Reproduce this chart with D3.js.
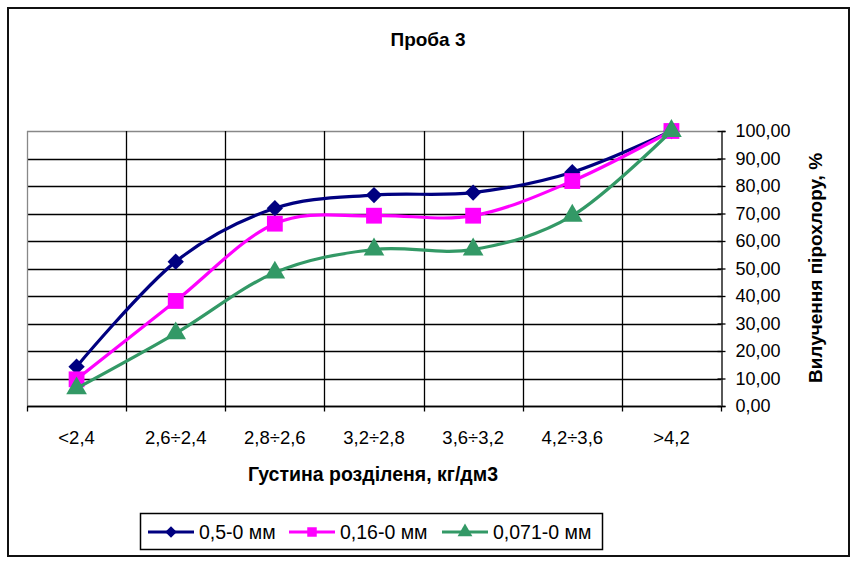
<!DOCTYPE html>
<html>
<head>
<meta charset="utf-8">
<script src="https://cdn.jsdelivr.net/npm/d3@7"></script>
<style>
  html, body { margin: 0; padding: 0; background: #fff; }
  svg { display: block; font-family: Arial, "Liberation Sans", sans-serif; }
</style>
</head>
<body>
<svg id="chart" width="852" height="563"></svg>
<script>
// Density fractions (x categories)
const categories = ["<2,4", "2,6÷2,4", "2,8÷2,6", "3,2÷2,8", "3,6÷3,2", "4,2÷3,6", ">4,2"];
// Cumulative pyrochlore recovery, % per size class
const series05 = [14.3, 52.5, 71.9, 76.7, 77.6, 85.0, 100];
const series016 = [9.7, 38.2, 66.3, 69.2, 69.2, 81.8, 100];
const series0071 = [6.4, 26.4, 48.5, 56.9, 56.9, 69.2, 100];
const seriesNames = ["0,5-0 мм", "0,16-0 мм", "0,071-0 мм"];
const yTicks = [0, 10, 20, 30, 40, 50, 60, 70, 80, 90, 100];

const title = "Проба 3";
const xTitle = "Густина розділеня, кг/дм3";
const yTitle = "Вилучення пірохлору, %";

const series = [
  { name: seriesNames[0], values: series05, color: "#000080", marker: "diamond" },
  { name: seriesNames[1], values: series016, color: "#FF00FF", marker: "square" },
  { name: seriesNames[2], values: series0071, color: "#339966", marker: "triangle" }
];

const svg = d3.select("#chart");
const plot = { left: 27, right: 721, top: 131, bottom: 406 };

const x = d3.scaleBand().domain(categories).range([plot.left, plot.right]);
const y = d3.scaleLinear().domain([0, 100]).range([plot.bottom, plot.top]);
const cx = d => x(d) + x.bandwidth() / 2;
const fmt = v => d3.format(".2f")(v).replace(".", ",");

// Outer chart frame
svg.append("rect")
  .attr("x", 8).attr("y", 8).attr("width", 841).attr("height", 548)
  .attr("fill", "#fff").attr("stroke", "#111").attr("stroke-width", 2);

// Title
svg.append("text")
  .attr("x", 428).attr("y", 46)
  .attr("text-anchor", "middle")
  .attr("font-size", 19).attr("font-weight", "bold")
  .text(title);

// Horizontal gridlines
svg.append("g")
  .selectAll("line")
  .data(yTicks)
  .join("line")
  .attr("x1", plot.left).attr("x2", plot.right)
  .attr("y1", d => Math.round(y(d)) + 0.5).attr("y2", d => Math.round(y(d)) + 0.5)
  .attr("stroke", d => d === 100 ? "#888" : "#000")
  .attr("stroke-width", 1.3);

// Vertical gridlines at category boundaries
const bounds = categories.map(c => x(c)).concat([plot.right]);
svg.append("g")
  .selectAll("line")
  .data(bounds.slice(0, -1))
  .join("line")
  .attr("x1", d => Math.round(d) + 0.5).attr("x2", d => Math.round(d) + 0.5)
  .attr("y1", plot.top).attr("y2", plot.bottom)
  .attr("stroke", (d, i) => i === 0 ? "#888" : "#000")
  .attr("stroke-width", 1.3);

// Bottom category axis
const xAxis = svg.append("g")
  .attr("transform", `translate(0,${Math.round(y(0)) + 0.5})`);
xAxis.append("line")
  .attr("x1", plot.left).attr("x2", plot.right)
  .attr("stroke", "#000").attr("stroke-width", 1.3);
xAxis.selectAll("line.tick")
  .data(bounds)
  .join("line")
  .attr("class", "tick")
  .attr("x1", d => Math.round(d) + 0.5).attr("x2", d => Math.round(d) + 0.5)
  .attr("y1", 0).attr("y2", 5)
  .attr("stroke", "#000").attr("stroke-width", 1.3);
xAxis.selectAll("text")
  .data(categories)
  .join("text")
  .attr("x", d => cx(d)).attr("y", 37)
  .attr("text-anchor", "middle")
  .attr("font-size", 18.5)
  .text(d => d);

// Right value axis
const yAxis = d3.axisRight(y).tickValues(yTicks).tickFormat(fmt).tickSize(4).tickPadding(10);
const yg = svg.append("g")
  .attr("transform", `translate(${plot.right + 0.5},0)`)
  .call(yAxis);
yg.select(".domain").attr("stroke", "#000").attr("stroke-width", 1.3);
yg.selectAll(".tick line").attr("stroke", "#000").attr("stroke-width", 1.3).attr("x1", -4);
yg.selectAll(".tick text")
  .attr("font-size", 18).attr("font-family", "Arial, 'Liberation Sans', sans-serif").attr("fill", "#000");

// Axis titles
svg.append("text")
  .attr("x", 373).attr("y", 481)
  .attr("text-anchor", "middle")
  .attr("font-size", 19.5).attr("font-weight", "bold")
  .text(xTitle);
svg.append("text")
  .attr("transform", "translate(822,268) rotate(-90)")
  .attr("text-anchor", "middle")
  .attr("font-size", 19).attr("font-weight", "bold")
  .text(yTitle);

// Marker shapes
const markerPath = {
  diamond: d3.symbol().type(d3.symbolDiamond2).size(170)(),
  square: d3.symbol().type(d3.symbolSquare).size(250)(),
  triangle: d3.symbol().type(d3.symbolTriangle).size(185)()
};

const line = d3.line()
  .x((d, i) => cx(categories[i]))
  .y(d => y(d))
  .curve(d3.curveCatmullRom.alpha(0));

series.forEach(s => {
  const g = svg.append("g");
  g.append("path")
    .datum(s.values)
    .attr("d", line)
    .attr("fill", "none")
    .attr("stroke", s.color)
    .attr("stroke-width", 3.2);
  g.selectAll("path.m")
    .data(s.values)
    .join("path")
    .attr("class", "m")
    .attr("d", markerPath[s.marker])
    .attr("transform", (d, i) => `translate(${cx(categories[i])},${y(d)})`)
    .attr("fill", s.color);
});

// Legend
const lg = svg.append("g");
lg.append("rect")
  .attr("x", 140.5).attr("y", 513.5).attr("width", 462).attr("height", 36)
  .attr("fill", "#fff").attr("stroke", "#000").attr("stroke-width", 1.5);
const legendX = [148, 289, 442];
const small = {
  diamond: d3.symbol().type(d3.symbolDiamond2).size(85)(),
  square: d3.symbol().type(d3.symbolSquare).size(90)(),
  triangle: d3.symbol().type(d3.symbolTriangle).size(95)()
};
series.forEach((s, i) => {
  const ly = 532;
  lg.append("line")
    .attr("x1", legendX[i]).attr("x2", legendX[i] + 46)
    .attr("y1", ly).attr("y2", ly)
    .attr("stroke", s.color).attr("stroke-width", 3);
  lg.append("path")
    .attr("d", small[s.marker])
    .attr("transform", `translate(${legendX[i] + 23},${ly})`)
    .attr("fill", s.color);
  lg.append("text")
    .attr("x", legendX[i] + 51).attr("y", ly + 7)
    .attr("font-size", 19.5)
    .text(s.name);
});
</script>
</body>
</html>
